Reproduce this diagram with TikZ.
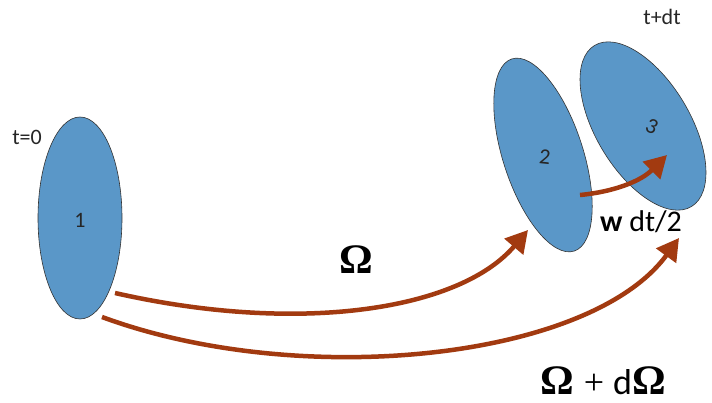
\documentclass[tikz,border=0pt]{standalone}
\usepackage{fontspec}
\setmainfont{Carlito}
\newfontfamily\omfont{Liberation Serif}
\usetikzlibrary{arrows.meta}
\definecolor{blob}{HTML}{5A97C8}
\definecolor{rust}{HTML}{A23A10}
\newcommand{\BigOm}{{\omfont\bfseries Ω}}
\begin{document}
\begin{tikzpicture}[x=1pt,y=-1pt,
  blobstyle/.style={draw=black!80,line width=0.6pt,fill=blob},
  arr/.style={draw=rust,line width=4.5pt,-{Triangle[length=22pt,width=24pt]}},
  lbl/.style={font=\fontsize{22}{24}\selectfont,text=black!85}]
\useasboundingbox (0,0) rectangle (712,403);
\fill[white] (0,0) rectangle (712,403);
% ellipses
\draw[blobstyle] (80,218) ellipse [x radius=42, y radius=101];
\draw[blobstyle,rotate around={18:(543,155)}] (543,155) ellipse [x radius=40, y radius=101];
\draw[blobstyle,rotate around={31:(643,126)}] (643,126) ellipse [x radius=47, y radius=94];
% labels inside / near shapes
\node[lbl] (n1) at (80,220) {1};
\node[lbl,rotate=-6] (n2) at (545,157) {2};
\node[lbl,rotate=-25] (n3) at (652,126) {3};
\node[lbl] (t0) at (27,137) {t=0};
\node[lbl] (tdt) at (662,17) {t+dt};
\coordinate (a1s) at (115,293);
\coordinate (a1e) at (528,230);
\coordinate (a2s) at (102,317);
\coordinate (a2e) at (679,238);
\coordinate (a3s) at (580,195);
\coordinate (a3e) at (667,155);
% arrows
\draw[arr] (a1s) .. controls (300,335) and (460,310) .. (a1e);
\draw[arr] (a2s) .. controls (300,390) and (590,360) .. (a2e);
\draw[arr] (a3s) .. controls (612,192) and (640,182) .. (a3e);
% labels
\node[font=\fontsize{42}{44}\selectfont,inner sep=0pt] (om) at (356,260) {\BigOm};
\node[font=\fontsize{36}{38}\selectfont,inner sep=0pt] (omd) at (603,381) {{\fontsize{42}{44}\selectfont\BigOm}\hspace{10pt}{\omfont +}\hspace{9pt}d{\fontsize{42}{44}\selectfont\BigOm}};
\node[font=\fontsize{30}{32}\selectfont,inner sep=0pt] (w) at (641,222) {\textbf{w} dt/2};
\end{tikzpicture}
\end{document}
